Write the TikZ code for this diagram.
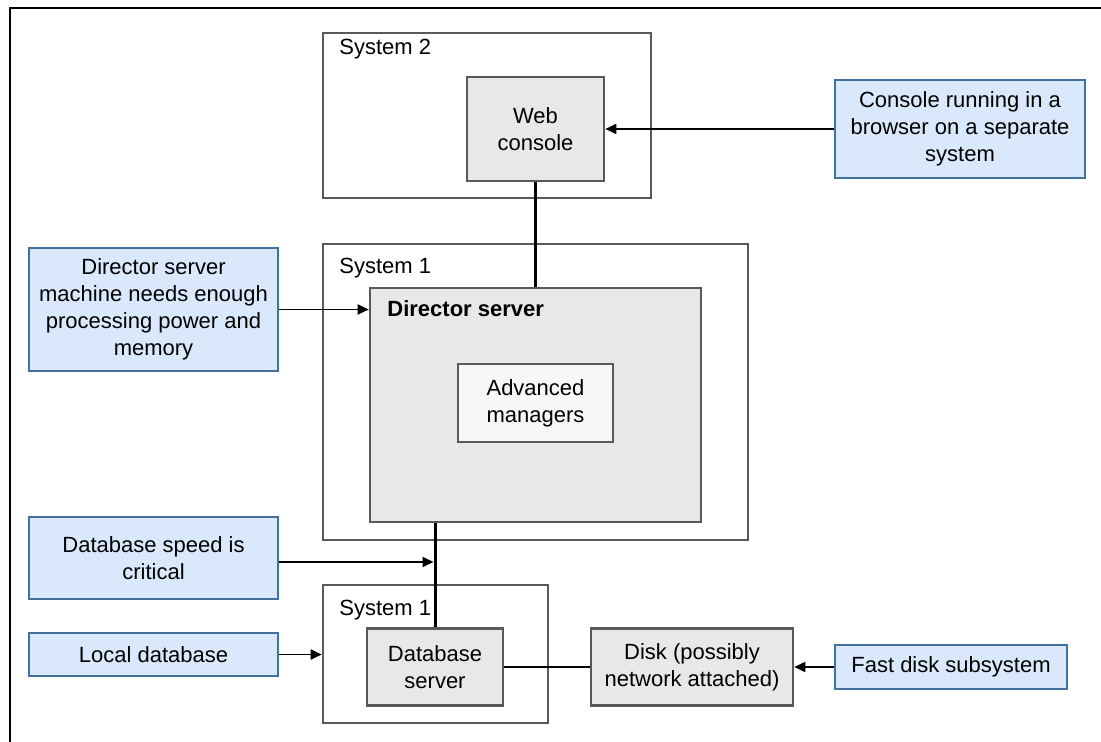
\documentclass[tikz,border=0pt]{standalone}
\usepackage{fontspec}
\setmainfont{Liberation Sans}
\usetikzlibrary{arrows.meta}
\definecolor{boxgray}{HTML}{E8E8E8}
\definecolor{edgegray}{HTML}{595959}
\definecolor{advfill}{HTML}{F7F7F7}
\definecolor{notefill}{HTML}{DAE8FC}
\definecolor{noteedge}{HTML}{41719C}
\begin{document}
\begin{tikzpicture}[
    x=0.5pt, y=-0.5pt,
    every node/.style={font=\fontsize{11}{13.5}\selectfont, inner sep=0pt, align=center},
    pxsize/.style 2 args={minimum width=#1*0.5pt, minimum height=#2*0.5pt},
    system/.style={draw=edgegray, line width=1.3pt, fill=white, rectangle},
    server/.style={draw=edgegray, line width=1.3pt, fill=boxgray, rectangle},
    note/.style={draw=noteedge, line width=1pt, fill=notefill, rectangle},
    link/.style={black, line width=1.5pt},
    thinlink/.style={black, line width=0.8pt},
    arrowline/.style={black, line width=0.9pt, -{Triangle[length=5.5pt,width=5pt]}},
    caption/.style={anchor=base west}
    ]

    \useasboundingbox (0,0) rectangle (1101,742);
    \draw[line width=0.8pt] (10,742) -- (10,8) -- (1101,8);

    % system 2
    \node[system, pxsize={328}{165}] (sys2) at (487,115.5) {};
    \node[caption] (sys2label) at (339,55) {System 2};
    \node[server, pxsize={137}{104}] (web) at (535.5,129) {Web\\console};

    % system 1 with director
    \node[system, pxsize={425}{296}] (sys1) at (535.5,392) {};
    \node[caption] (sys1label) at (339,274) {System 1};
    \node[server, pxsize={331}{234}] (dir) at (535.5,405) {};
    \node[caption] (dirlabel) at (387,317) {\bfseries Director server};
    \node[server, fill=advfill, pxsize={155}{78}] (adv) at (535.5,403) {Advanced\\managers};

    % system 1 with database
    \node[system, pxsize={225}{138}] (sys1db) at (435.5,654) {};
    \node[caption] (sys1dblabel) at (339,615) {System 1};
    \node[server, pxsize={136}{77}] (db) at (435,667) {Database\\server};
    \node[server, pxsize={202}{77}] (disk) at (692,667) {Disk (possibly\\network attached)};

    % notes
    \node[note, pxsize={250}{98}] (consolenote) at (960,129) {Console running in a\\browser on a separate\\system};
    \node[note, pxsize={249}{123}] (dirnote) at (153.5,309.5) {Director server\\machine needs enough\\processing power and\\memory};
    \node[note, pxsize={249}{82}] (speednote) at (153.5,558) {Database speed is\\critical};
    \node[note, pxsize={249}{43}] (localnote) at (153.5,654.5) {Local database};
    \node[note, pxsize={232}{44}] (fastnote) at (951,667) {Fast disk subsystem};

    \draw[link] (web.south) -- (dir.north -| web.south);
    \draw[link] (dir.south -| db.north) -- (db.north);
    \draw[thinlink] (db.east) -- (disk.west);

    \draw[arrowline] (consolenote.west) -- (web.east |- consolenote.west);
    \draw[arrowline] (dirnote.east) -- (dir.west |- dirnote.east);
    \draw[arrowline] ([yshift=-2pt]speednote.east) -- ([xshift=-0.75pt,yshift=-2pt]speednote.east -| db.north);
    \draw[arrowline] (localnote.east) -- (sys1db.west |- localnote.east);
    \draw[arrowline] (fastnote.west) -- (disk.east |- fastnote.west);

\end{tikzpicture}
\end{document}
